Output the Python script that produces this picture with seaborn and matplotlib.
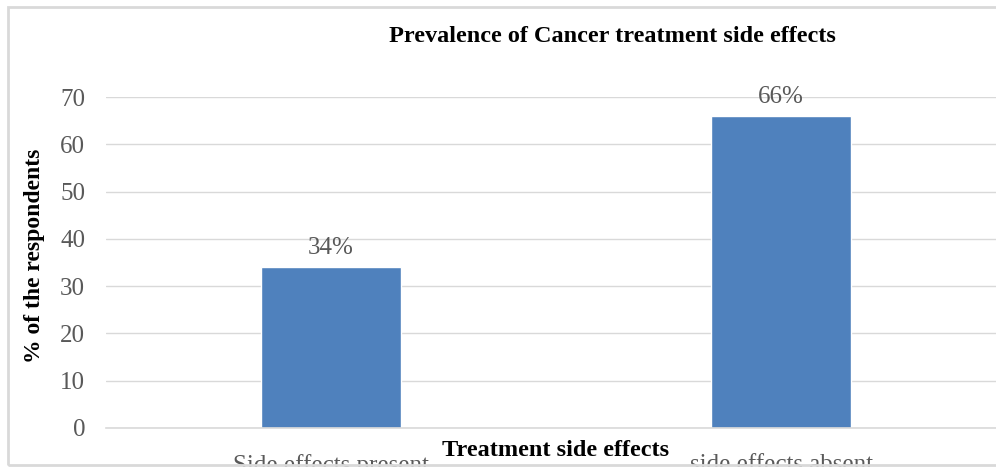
import matplotlib
matplotlib.use("Agg")
import matplotlib.pyplot as plt
import seaborn as sns
import pandas as pd
from matplotlib.patches import Rectangle

categories = ["Side effects present", "side effects absent"]
values = [34, 66]
value_labels = ["34%", "66%"]
yticks = [0, 10, 20, 30, 40, 50, 60, 70]

sns.set_theme(style="white")
plt.rcParams['font.family'] = ['Liberation Serif', 'DejaVu Serif']

W, H = 996, 467
fig = plt.figure(figsize=(W / 100, H / 100), dpi=100)
fig.patch.set_facecolor("white")

# outer chart border
fig.patches.append(Rectangle((8 / W, 2 / H), 1.2, (H - 9) / H, transform=fig.transFigure,
                             fill=False, edgecolor="#D9D9D9", linewidth=2))

ax = fig.add_axes([106 / W, (H - 428) / H, 900 / W, (428 - 97) / H])
df = pd.DataFrame({"cat": categories, "val": values})
sns.barplot(data=df, x="cat", y="val", color="#4F81BD", saturation=1, width=0.311, ax=ax)

ax.set_ylim(0, 70)
ax.set_xlim(-0.5, 1.5)
ax.set_yticks(yticks)
ax.yaxis.grid(True, color="#D9D9D9", linewidth=1)
ax.set_axisbelow(True)
for s in ["top", "right", "left"]:
    ax.spines[s].set_visible(False)
ax.spines["bottom"].set_color("#D9D9D9")
ax.spines["bottom"].set_linewidth(1.2)

ax.tick_params(axis="y", length=0, pad=15, labelsize=18, labelcolor="#595959")
ax.tick_params(axis="x", length=0, pad=19, labelsize=18, labelcolor="#595959")

ax.bar_label(ax.containers[0], labels=value_labels, padding=6, fontsize=18, color="#595959")

ax.set_xlabel("Treatment side effects", fontsize=17.5, fontweight="bold", color="black")
ax.xaxis.set_label_coords(0.5, -0.036)
ax.set_ylabel("% of the respondents", fontsize=17, fontweight="bold", color="black")
ax.yaxis.set_label_coords(-0.068, 0.521)

fig.text(612 / W, 1 - 37 / H, "Prevalence of Cancer treatment side effects", ha="center", va="center",
         fontsize=17.5, fontweight="bold", color="black")

fig.savefig("out.png", dpi=100)
